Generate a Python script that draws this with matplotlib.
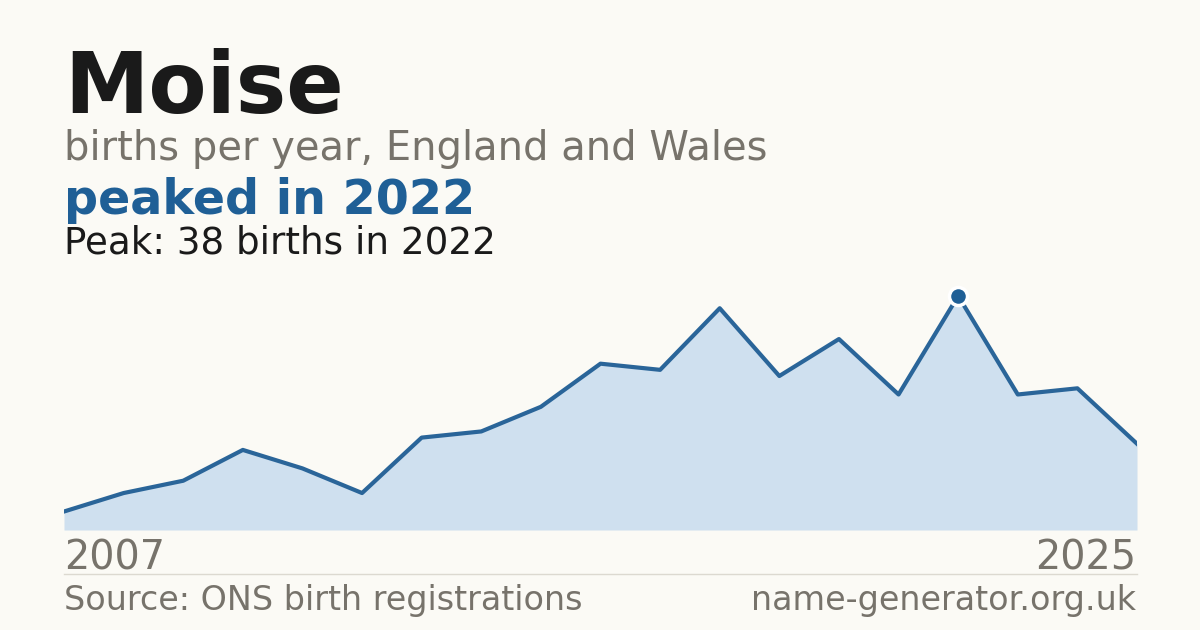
import matplotlib
matplotlib.use("Agg")
import matplotlib.pyplot as plt

plt.rcParams['font.family'] = ['DejaVu Sans']

# births per year for the name Moise
years = list(range(2007, 2026))
births = [3, 6, 8, 13, 10, 6, 15, 16, 20, 27, 26, 36, 25, 31, 22, 38, 22, 23, 14]

peak_year = 2022
peak_val = 38

bg = '#fbfaf5'
blue = '#2a6599'
dark_blue = '#1f5f96'
fill = '#cfe0ef'
grey = '#77736b'
ink = '#1a1a1a'

W, H = 1200, 630
fig = plt.figure(figsize=(12, 6.3), dpi=100, facecolor=bg)

def px(x, y):
    return x / W, 1 - y / H

# chart area
ax = fig.add_axes([64 / W, (H - 530) / H, (1137 - 64) / W, 250 / H])
ax.set_facecolor(bg)
ax.fill_between(years, births, 0, color=fill, lw=0)
ax.plot(years, births, color=blue, lw=3, zorder=3)
ax.plot([peak_year], [peak_val], 'o', ms=13, color=dark_blue,
        mec='white', mew=2.5, zorder=4)
ax.set_xlim(years[0], years[-1])
ax.set_ylim(0, 250 / 6.16)
ax.axis('off')

# titles
fig.text(*px(64, 113), 'Moise', fontsize=61, fontweight='bold', color=ink, va='baseline')
fig.text(*px(64, 160), 'births per year, England and Wales', fontsize=28.8, color=grey, va='baseline')
fig.text(*px(64, 214), 'peaked in 2022', fontsize=34.3, fontweight='bold', color=dark_blue, va='baseline')
fig.text(*px(64, 253), 'Peak: 38 births in 2022', fontsize=26.8, color=ink, va='baseline')

# axis year labels
fig.text(*px(64, 570), str(years[0]), fontsize=28.6, color=grey, va='baseline')
fig.text(*px(1136, 570), str(years[-1]), fontsize=28.6, color=grey, va='baseline', ha='right')

# separator + footer
fig.add_artist(plt.Line2D([64 / W, 1137 / W], [1 - 574 / H] * 2, color='#dcd9d0', lw=1))
fig.text(*px(64, 610), 'Source: ONS birth registrations', fontsize=24, color=grey, va='baseline')
fig.text(*px(1136, 610), 'name-generator.org.uk', fontsize=24, color=grey, va='baseline', ha='right')

fig.savefig('out.png', dpi=100, facecolor=bg)
